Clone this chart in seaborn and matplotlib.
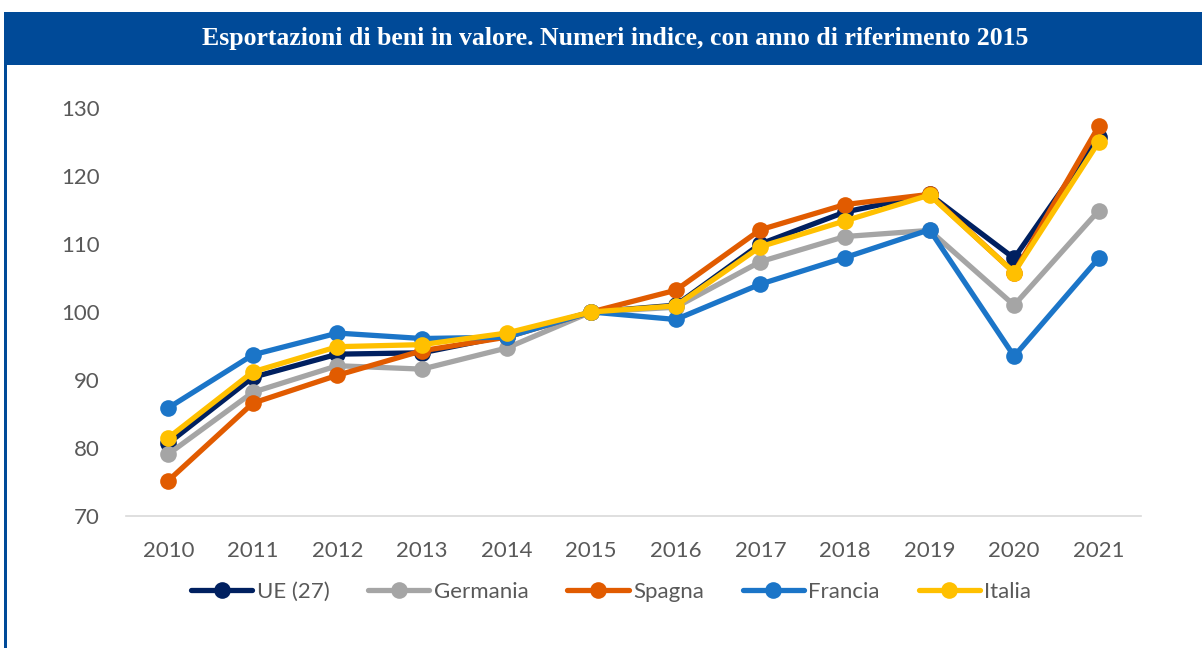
import matplotlib
matplotlib.use("Agg")
import matplotlib.pyplot as plt
import seaborn as sns
import pandas as pd
from matplotlib.patches import Rectangle

years = ["2010", "2011", "2012", "2013", "2014", "2015", "2016", "2017", "2018", "2019", "2020", "2021"]
ue = [80.7, 90.4, 93.8, 94.0, 96.5, 100, 101.0, 110.0, 114.7, 117.3, 107.9, 125.7]
germania = [79.1, 88.2, 92.1, 91.6, 94.7, 100, 100.7, 107.4, 111.1, 112.0, 101.0, 114.9]
spagna = [75.2, 86.6, 90.7, 94.3, 96.3, 100, 103.2, 112.1, 115.8, 117.3, 105.8, 127.3]
francia = [85.9, 93.7, 96.9, 96.1, 96.3, 100, 98.9, 104.1, 108.0, 112.1, 93.5, 107.9]
italia = [81.5, 91.2, 94.9, 95.2, 96.9, 100, 100.9, 109.6, 113.4, 117.2, 105.8, 125.0]

series_names = ["UE (27)", "Germania", "Spagna", "Francia", "Italia"]
colors = ["#002060", "#A5A5A5", "#E15B00", "#1B75C8", "#FFC000"]

df = pd.DataFrame({
    "anno": years * 5,
    "valore": ue + germania + spagna + francia + italia,
    "serie": [n for n in series_names for _ in years],
})

sns.set_style("white")
plt.rcParams["font.family"] = ["Lato", "DejaVu Sans"]

fig = plt.figure(figsize=(12.02, 6.48), dpi=100)
ax = fig.add_axes([126 / 1202, 1 - 516 / 648, 1015 / 1202, 408 / 648])

sns.lineplot(data=df, x="anno", y="valore", hue="serie", hue_order=series_names,
             palette=colors, marker="o", markersize=12, linewidth=3.8,
             markeredgewidth=0, sort=False, ax=ax)

ax.set_xlim(-0.5, 11.5)
ax.set_ylim(70, 130)
ax.set_yticks(range(70, 131, 10))
ax.set_xlabel("")
ax.set_ylabel("")
ax.tick_params(axis="both", labelsize=16, colors="#595959", length=0)
ax.tick_params(axis="x", pad=18)
ax.tick_params(axis="y", pad=19)
for s in ["top", "right", "left"]:
    ax.spines[s].set_visible(False)
ax.spines["bottom"].set_color("#D9D9D9")
ax.spines["bottom"].set_linewidth(1.2)

handles, labels = ax.get_legend_handles_labels()
leg = ax.legend(handles, labels, ncol=5, loc="center", bbox_to_anchor=(0.478, -0.186),
                frameon=False, fontsize=16, handlelength=2.75, columnspacing=1.75,
                handletextpad=0.2)
for t in leg.get_texts():
    t.set_color("#595959")

# header banner and frame
fig.patches.append(Rectangle((4 / 1202, 1 - 65 / 648), 1, 53 / 648, transform=fig.transFigure,
                             facecolor="#004A98", edgecolor="none", zorder=0))
fig.patches.append(Rectangle((4 / 1202, 0), 3 / 1202, 1 - 12 / 648, transform=fig.transFigure,
                             facecolor="#004A98", edgecolor="none", zorder=0))
fig.text(0.512, 1 - 38 / 648, "Esportazioni di beni in valore. Numeri indice, con anno di riferimento 2015",
         ha="center", va="center", color="white", fontsize=18.5, fontweight="bold",
         family=["Liberation Serif", "DejaVu Serif"])

fig.savefig("out.png", dpi=100)
